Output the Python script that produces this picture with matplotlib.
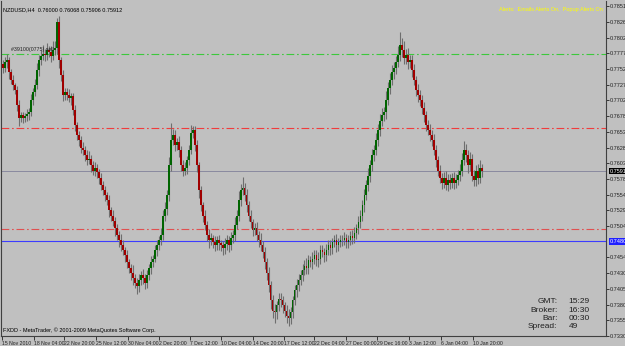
import matplotlib
matplotlib.use("Agg")
import matplotlib.pyplot as plt
import matplotlib.transforms as mtransforms
import numpy as np

# ---------------- data (prices in pips: 7591 -> 0.7591) ----------------
closes = [
    7754, 7763, 7766, 7747, 7735, 7727, 7719, 7695, 7675, 7679,
    7675, 7678, 7681, 7684, 7703, 7716, 7727, 7750, 7766, 7773,
    7776, 7774, 7782, 7779, 7773, 7782, 7785, 7826, 7766, 7743,
    7711, 7716, 7711, 7706, 7709, 7687, 7664, 7648, 7640, 7627,
    7624, 7616, 7608, 7611, 7600, 7592, 7596, 7589, 7580, 7569,
    7561, 7553, 7545, 7529, 7521, 7513, 7501, 7490, 7482, 7474,
    7466, 7458, 7447, 7438, 7431, 7422, 7415, 7409, 7419, 7427,
    7422, 7415, 7427, 7438, 7447, 7453, 7466, 7474, 7482, 7490,
    7521, 7532, 7553, 7600, 7640, 7648, 7632, 7637, 7624, 7600,
    7592, 7596, 7608, 7624, 7652, 7656, 7632, 7600, 7561, 7537,
    7521, 7506, 7490, 7482, 7485, 7479, 7474, 7482, 7477, 7474,
    7469, 7476, 7482, 7474, 7485, 7490, 7506, 7521, 7545, 7561,
    7564, 7553, 7537, 7521, 7510, 7498, 7501, 7490, 7482, 7474,
    7463, 7447, 7431, 7411, 7387, 7371, 7368, 7379, 7390, 7387,
    7379, 7371, 7363, 7359, 7368, 7387, 7403, 7411, 7419, 7427,
    7435, 7442, 7438, 7450, 7447, 7453, 7458, 7450, 7453, 7466,
    7463, 7458, 7466, 7474, 7469, 7479, 7482, 7474, 7479, 7482,
    7482, 7485, 7479, 7482, 7488, 7485, 7494, 7501, 7510, 7521,
    7537, 7553, 7569, 7584, 7600, 7616, 7624, 7640, 7656, 7671,
    7679, 7684, 7703, 7722, 7735, 7747, 7754, 7763, 7774, 7790,
    7782, 7769, 7774, 7763, 7766, 7750, 7735, 7719, 7711, 7703,
    7690, 7679, 7664, 7656, 7648, 7640, 7624, 7608, 7592, 7580,
    7573, 7580, 7569, 7577, 7572, 7580, 7573, 7577, 7585, 7592,
    7608, 7624, 7616, 7600, 7611, 7584, 7577, 7592, 7580, 7596, 7591,
]
first_open = 7760
up_wick = [
    6, 8, 10, 5, 6, 8, 4, 7, 9, 5,
    6, 5, 8, 6, 10, 7, 9, 12, 8, 10,
    14, 8, 12, 6, 10, 15, 12, 7, 10, 6,
    8, 6, 7, 9, 5, 6, 8, 5, 7, 6,
    10, 6, 8, 12, 5, 7, 9, 6, 5, 8,
    6, 7, 5, 9, 6, 8, 5, 7, 6, 10,
    8, 6, 9, 5, 7, 12, 6, 8, 10, 7,
    9, 6, 8, 7, 10, 6, 8, 9, 7, 12,
    8, 10, 9, 14, 27, 10, 8, 6, 9, 7,
    8, 10, 7, 9, 12, 7, 6, 8, 5, 7,
    6, 9, 7, 10, 8, 6, 9, 7, 8, 6,
    7, 9, 8, 6, 10, 8, 12, 9, 15, 10,
    18, 8, 10, 7, 9, 6, 8, 10, 7, 12,
    6, 8, 7, 9, 6, 8, 10, 7, 8, 9,
    7, 6, 8, 10, 9, 7, 8, 10, 9, 8,
    10, 8, 12, 9, 7, 10, 8, 9, 10, 8,
    9, 7, 10, 8, 9, 7, 8, 10, 7, 9,
    8, 10, 7, 9, 8, 10, 9, 7, 10, 8,
    9, 10, 8, 12, 9, 10, 8, 11, 9, 10,
    12, 9, 14, 10, 11, 12, 9, 10, 14, 20,
    12, 15, 10, 12, 9, 8, 10, 7, 9, 8,
    9, 10, 7, 8, 9, 8, 10, 9, 7, 8,
    8, 9, 12, 10, 9, 8, 10, 9, 8, 10,
    12, 14, 10, 8, 10, 7, 9, 8, 10, 12, 7,
]
dn_wick = [
    8, 6, 9, 10, 7, 8, 6, 9, 12, 7,
    8, 6, 7, 9, 6, 8, 7, 6, 9, 7,
    6, 9, 7, 8, 10, 6, 8, 9, 12, 10,
    9, 7, 8, 6, 10, 8, 9, 7, 10, 8,
    7, 9, 8, 6, 10, 7, 8, 9, 10, 7,
    8, 9, 7, 10, 8, 9, 12, 8, 10, 9,
    8, 10, 9, 8, 12, 10, 9, 12, 8, 7,
    9, 10, 8, 7, 9, 8, 6, 9, 8, 7,
    7, 8, 10, 9, 8, 7, 9, 8, 10, 9,
    8, 7, 9, 8, 6, 8, 9, 10, 12, 9,
    10, 8, 9, 12, 8, 10, 9, 8, 10, 9,
    10, 8, 9, 10, 7, 8, 9, 7, 8, 9,
    8, 9, 10, 8, 9, 10, 8, 9, 10, 9,
    9, 10, 12, 10, 14, 12, 16, 10, 9, 10,
    12, 10, 11, 12, 10, 9, 8, 10, 9, 8,
    9, 8, 10, 9, 8, 10, 9, 8, 10, 9,
    8, 10, 9, 8, 10, 9, 8, 10, 9, 8,
    9, 8, 10, 9, 8, 9, 8, 10, 9, 8,
    9, 10, 8, 9, 10, 8, 9, 8, 10, 9,
    8, 9, 10, 8, 9, 8, 10, 9, 8, 9,
    10, 9, 8, 10, 9, 10, 8, 9, 10, 9,
    8, 10, 9, 8, 10, 9, 8, 10, 9, 8,
    10, 9, 8, 10, 9, 8, 10, 9, 8, 10,
    9, 8, 10, 12, 9, 8, 10, 9, 10, 8, 9,
]

level_green = 0.77762
level_red_top = 0.76590
level_bid = 0.75912
level_red_low = 0.74990
level_blue = 0.74800

ytick_labels = ["0.78518", "0.78268", "0.78020", "0.77772", "0.77524", "0.77276",
                "0.77028", "0.76780", "0.76532", "0.76284", "0.76036", "0.75788",
                "0.75540", "0.75292", "0.75044", "0.74548", "0.74300", "0.74050",
                "0.73804", "0.73556", "0.73308"]
xtick_labels = ["15 Nov 2010", "18 Nov 04:00", "22 Nov 20:00", "25 Nov 12:00",
                "30 Nov 04:00", "2 Dec 20:00", "7 Dec 12:00", "10 Dec 04:00",
                "14 Dec 20:00", "17 Dec 12:00", "22 Dec 04:00", "27 Dec 00:00",
                "29 Dec 16:00", "3 Jan 12:00", "6 Jan 04:00", "10 Jan 20:00"]
xtick_pos = [-0.5, 15.5, 30.5, 46.5, 62.5, 78, 93.5, 109, 125, 140.5, 156, 172,
             187.5, 203.5, 219.5, 235.5]

title_text = "NZDUSD,H4  0.76000 0.76068 0.75906 0.75912"
alert_text = "Alerts:  Emails Alerts On,  Popup Alerts On"
order_text = "#39100(0775) sell"
copyright_text = "FXDD - MetaTrader, \u00a9 2001-2009 MetaQuotes Software Corp."
info_keys = ["GMT:", "Broker:", "Bar:", "Spread:"]
info_vals = ["15:29", "16:30", "00:30", "49"]

# ---------------- build OHLC ----------------
c = np.array(closes, dtype=float) / 10000.0
o = np.concatenate([[first_open / 10000.0], c[:-1]])
h = np.maximum(o, c) + np.array(up_wick) / 10000.0
l = np.minimum(o, c) - np.array(dn_wick) / 10000.0
x = np.arange(len(c))

plt.rcParams['font.family'] = ['Liberation Sans', 'DejaVu Sans']
BG = "#c0c0c0"
fig = plt.figure(figsize=(6.25, 3.46), dpi=100)
fig.patch.set_facecolor(BG)
ax = fig.add_axes([1 / 625, 10 / 346, 605 / 625, 335 / 346])
ax.set_facecolor(BG)

ax.set_xlim(-1, 302)
ax.set_ylim(0.73308, 0.78597)

dashdot = (0, (7, 2.5, 1.5, 2.5))
ax.axhline(level_green, color="#3cc83c", lw=0.8, ls=dashdot, zorder=1)
ax.axhline(level_red_top, color="#f03c3c", lw=0.8, ls=dashdot, zorder=1)
ax.axhline(level_red_low, color="#e05050", lw=0.8, ls=dashdot, zorder=1)
ax.axhline(level_bid, color="#8a8aa0", lw=0.7, zorder=1)
ax.axhline(level_blue, color="#3c3cff", lw=0.8, zorder=1)

ax.vlines(x, l, h, color="#6e6e6e", lw=0.8, zorder=2)
up = c >= o
ax.bar(x[up], (c - o)[up], bottom=o[up], width=0.9, color="#006400", lw=0, zorder=3)
ax.bar(x[~up], (o - c)[~up], bottom=c[~up], width=0.9, color="#a00000", lw=0, zorder=3)

ax.spines["top"].set_visible(False)
for s in ["left", "bottom", "right"]:
    ax.spines[s].set_color("#404040")
    ax.spines[s].set_linewidth(0.8)
ax.yaxis.tick_right()
ax.set_yticks([float(t) for t in ytick_labels])
ax.set_yticklabels(ytick_labels)
ax.tick_params(axis="y", direction="out", length=2, width=0.6, labelsize=4.0, pad=1,
               colors="#202020")
ax.set_xticks(xtick_pos)
ax.set_xticklabels(xtick_labels)
ax.tick_params(axis="x", direction="out", length=3, width=0.6, labelsize=3.7, pad=0.5,
               colors="#202020")
for t in ax.get_xticklabels():
    t.set_ha("left")

trans = mtransforms.blended_transform_factory(ax.transAxes, ax.transData)
ax.text(1.006, level_bid, "0.75912", transform=trans, fontsize=4.0, color="white",
        va="center", ha="left", bbox=dict(boxstyle="square,pad=0.15", fc="black", ec="none"))
ax.text(1.006, level_blue, "0.74800", transform=trans, fontsize=4.0, color="white",
        va="center", ha="left", bbox=dict(boxstyle="square,pad=0.15", fc="#2020ff", ec="none"))

ax.text(0.004, 0.975, title_text, transform=ax.transAxes, fontsize=4.0, color="black",
        va="center", ha="left")
ax.text(0.995, 0.975, alert_text, transform=ax.transAxes, fontsize=4.0, color="#ffff00",
        va="center", ha="right")
ax.text(4, level_green + 0.0003, order_text, fontsize=3.8, color="#202020",
        va="bottom", ha="left")
ax.text(0.004, 0.01, copyright_text, transform=ax.transAxes, fontsize=4.0, color="black",
        va="bottom", ha="left")
ys = [0.104, 0.077, 0.052, 0.027]
for k, v, yy in zip(info_keys, info_vals, ys):
    ax.text(0.92, yy, k, transform=ax.transAxes, fontsize=6, color="#202020", ha="right",
            va="center")
    ax.text(0.938, yy, v, transform=ax.transAxes, fontsize=6, color="#202020", ha="left",
            va="center")

fig.savefig("out.png", dpi=100, facecolor=BG)
